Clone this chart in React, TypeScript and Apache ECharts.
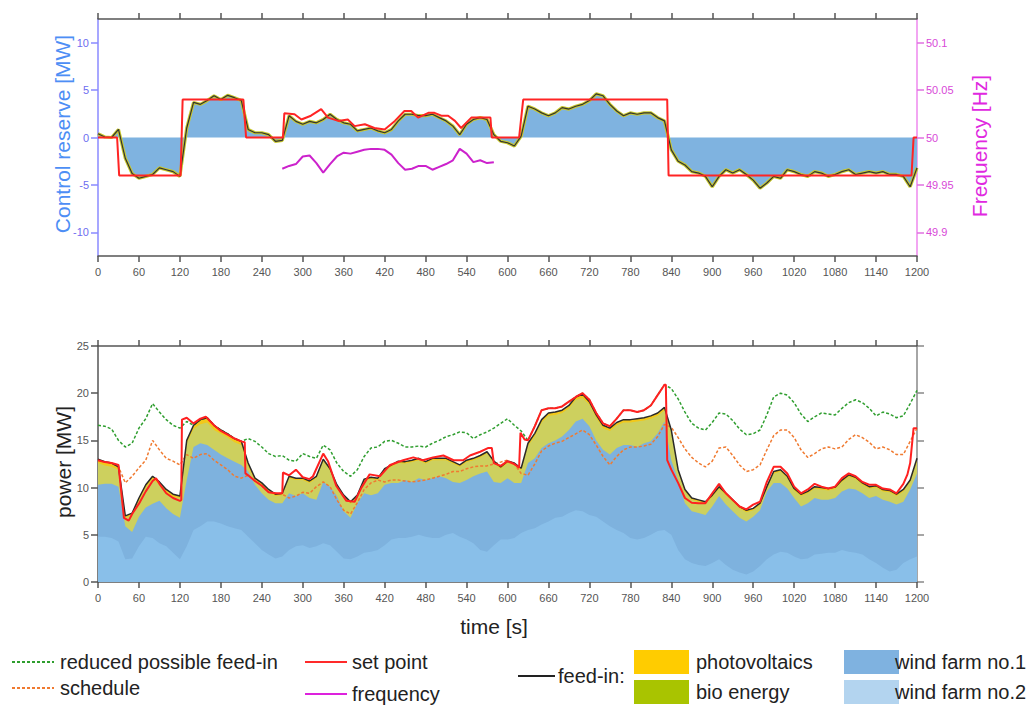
import React, { useEffect, useRef } from "react";
import * as echarts from "echarts";

// Sample instants of the 10 s series (s)
const T10: number[] = Array.from({ length: 121 }, (_, i) => i * 10);

// ---------- lower panel: power [MW] on the 10 s grid ----------
// measured total feed-in (black line)
const feedIn = [
  13.0, 12.75, 12.6, 12.2, 7.0, 7.3, 8.9, 10.3, 11.2, 10.6,
  9.8, 9.3, 9.1, 15.0, 16.6, 17.2, 17.4, 16.6, 16.1, 15.7,
  15.2, 14.9, 12.6, 11.0, 10.5, 9.8, 9.3, 9.4, 11.2, 11.0,
  11.0, 10.7, 11.2, 13.0, 12.0, 10.3, 9.2, 8.5, 9.2, 10.9,
  11.1, 11.0, 12.0, 12.4, 12.8, 12.75, 12.9, 13.1, 12.75, 13.1,
  13.1, 13.1, 12.75, 12.4, 12.9, 13.1, 13.4, 13.8, 12.8, 12.2,
  12.8, 12.6, 12.05, 14.7, 15.75, 17.2, 17.9, 18.0, 18.2, 18.7,
  19.6, 19.9, 19.1, 17.7, 16.6, 16.3, 16.9, 17.2, 17.2, 17.3,
  17.4, 17.6, 17.9, 18.5, 16.1, 11.9, 9.8, 8.9, 8.7, 8.5,
  9.2, 10.1, 9.4, 8.7, 8.0, 7.6, 7.8, 8.35, 10.1, 11.7,
  11.9, 11.2, 9.9, 9.3, 9.6, 10.1, 10.0, 9.9, 10.05, 10.8,
  11.35, 11.1, 10.5, 10.1, 10.2, 9.8, 9.7, 9.3, 9.8, 10.8,
  13.1,
];
// combined output of both wind farms
const windTotal = [
  10.3, 10.4, 10.4, 10.1, 5.9, 5.3, 6.9, 7.9, 8.3, 8.6,
  7.8, 7.2, 6.8, 10.8, 14.3, 14.7, 14.5, 14.0, 13.5, 13.1,
  12.75, 12.4, 11.7, 10.3, 9.4, 8.7, 8.35, 8.35, 9.4, 9.1,
  9.4, 8.9, 8.7, 10.6, 10.1, 9.1, 7.5, 6.8, 8.35, 9.4,
  9.2, 9.4, 10.3, 10.5, 10.5, 10.8, 10.6, 11.0, 10.8, 11.0,
  11.2, 11.0, 10.6, 10.5, 10.8, 11.2, 11.5, 11.7, 10.6, 10.5,
  11.0, 10.5, 10.5, 12.6, 13.1, 14.2, 14.7, 15.0, 15.4, 16.1,
  17.0, 17.3, 16.5, 15.0, 14.0, 13.5, 14.2, 14.5, 14.5, 14.3,
  14.7, 14.9, 15.75, 17.0, 12.9, 10.8, 8.35, 7.5, 7.3, 7.1,
  8.0, 9.1, 8.2, 7.5, 6.8, 6.4, 6.9, 7.6, 9.6, 10.5,
  10.5, 9.9, 8.9, 8.0, 8.35, 8.9, 8.7, 8.7, 8.9, 9.6,
  9.9, 9.8, 9.4, 8.9, 9.1, 8.7, 8.5, 8.2, 8.5, 9.8,
  11.5,
];
// wind farm no.2 output
const windFarm2 = [
  4.8, 4.8, 4.65, 4.3, 2.4, 2.5, 3.8, 4.8, 4.65, 4.1,
  3.8, 3.1, 2.4, 3.8, 5.5, 5.9, 6.4, 6.4, 6.2, 5.9,
  5.7, 5.5, 4.8, 4.1, 3.4, 2.9, 2.5, 2.7, 3.4, 3.8,
  3.9, 3.6, 3.8, 4.1, 3.9, 3.2, 2.5, 2.4, 2.7, 3.1,
  3.2, 3.4, 3.9, 4.5, 4.65, 4.65, 4.8, 5.0, 4.8, 4.65,
  4.65, 5.0, 5.2, 4.8, 4.5, 4.1, 3.4, 3.2, 3.9, 4.5,
  4.5, 4.65, 5.2, 5.5, 5.7, 6.1, 6.4, 6.8, 6.9, 7.3,
  7.6, 7.5, 7.1, 6.9, 6.4, 5.9, 5.5, 5.2, 4.65, 4.5,
  4.65, 5.0, 5.4, 5.5, 5.0, 3.4, 2.4, 2.0, 1.8, 1.7,
  2.0, 2.4, 1.8, 1.3, 1.0, 0.8, 1.1, 1.7, 2.4, 2.9,
  3.2, 3.1, 2.7, 2.4, 2.5, 2.9, 3.0, 3.1, 3.1, 3.4,
  3.2, 3.1, 2.9, 2.4, 2.0, 1.5, 1.1, 1.3, 2.0, 2.4,
  2.7,
];
// photovoltaics output
const photovoltaics = [
  0.4, 0.4, 0.4, 0.3, 0.2, 0.2, 0.3, 0.3, 0.3, 0.3,
  0.3, 0.3, 0.2, 0.3, 0.4, 0.5, 0.5, 0.5, 0.4, 0.4,
  0.4, 0.4, 0.3, 0.3, 0.3, 0.3, 0.2, 0.2, 0.2, 0.2,
  0.2, 0.2, 0.2, 0.2, 0.2, 0.2, 0.2, 0.2, 0.2, 0.2,
  0.2, 0.2, 0.2, 0.2, 0.2, 0.2, 0.2, 0.2, 0.2, 0.2,
  0.2, 0.2, 0.2, 0.2, 0.2, 0.2, 0.2, 0.2, 0.2, 0.2,
  0.2, 0.2, 0.2, 0.3, 0.3, 0.3, 0.3, 0.3, 0.3, 0.3,
  0.3, 0.4, 0.3, 0.3, 0.3, 0.3, 0.3, 0.3, 0.3, 0.3,
  0.3, 0.3, 0.3, 0.3, 0.2, 0.2, 0.2, 0.2, 0.2, 0.2,
  0.2, 0.2, 0.2, 0.2, 0.2, 0.2, 0.2, 0.2, 0.2, 0.2,
  0.2, 0.2, 0.2, 0.2, 0.2, 0.2, 0.2, 0.2, 0.2, 0.2,
  0.2, 0.2, 0.2, 0.2, 0.2, 0.2, 0.2, 0.2, 0.2, 0.2,
  0.3,
];
// reduced possible feed-in (green)
const reducedPossible = [
  16.6, 16.5, 16.2, 15.0, 14.3, 14.7, 16.3, 17.3, 18.9, 18.0,
  17.2, 16.6, 16.3, 17.0, 16.6, 17.2, 17.4, 16.6, 16.1, 15.7,
  15.2, 14.9, 15.2, 14.9, 14.3, 13.6, 13.3, 13.4, 12.9, 12.8,
  13.6, 13.3, 13.1, 14.5, 14.0, 12.6, 11.7, 11.2, 11.9, 13.3,
  14.2, 14.3, 14.9, 15.0, 14.7, 14.3, 14.3, 14.4, 14.3, 14.7,
  15.0, 15.4, 15.6, 15.9, 15.8, 15.2, 15.6, 15.9, 16.3, 16.8,
  17.3, 16.6, 16.0, 15.0, 16.5, 18.2, 18.4, 18.4, 18.6, 19.1,
  19.6, 20.0, 19.3, 17.9, 16.8, 16.5, 17.3, 18.2, 18.2, 18.0,
  18.2, 18.7, 19.8, 20.9, 20.5, 19.4, 18.0, 16.8, 16.3, 16.1,
  16.9, 17.9, 17.8, 17.1, 16.2, 15.6, 15.7, 16.1, 17.7, 19.6,
  20.0, 19.8, 19.0, 17.8, 17.0, 17.5, 17.9, 17.8, 17.7, 18.4,
  19.0, 19.3, 19.0, 18.4, 17.6, 18.0, 17.8, 17.4, 17.6, 18.9,
  20.3,
];
// schedule (orange)
const schedule = [
  12.9, 12.7, 12.6, 12.2, 10.5, 11.2, 12.1, 12.9, 15.0, 14.0,
  13.1, 12.8, 12.4, 13.5, 13.1, 13.5, 13.6, 12.9, 12.4, 11.9,
  11.2, 11.0, 11.3, 10.7, 10.2, 9.5, 9.4, 9.3, 8.9, 9.1,
  9.5, 9.4, 10.1, 10.6, 10.1, 8.7, 7.6, 7.2, 8.4, 9.8,
  10.5, 10.8, 10.6, 10.8, 10.8, 10.7, 10.6, 10.7, 10.8, 11.0,
  11.2, 11.4, 11.7, 11.7, 12.0, 12.2, 12.3, 12.3, 12.5, 12.7,
  12.9, 12.5, 11.5, 11.3, 12.5, 13.9, 14.4, 14.7, 14.9, 15.3,
  15.7, 16.1, 15.6, 14.5, 13.3, 12.4, 13.3, 14.0, 14.3, 14.3,
  14.4, 14.6, 15.4, 16.7, 16.4, 15.3, 14.1, 13.2, 12.6, 12.2,
  12.8, 14.2, 14.3, 13.4, 12.4, 11.7, 11.9, 12.4, 14.0, 15.5,
  16.1, 16.1, 15.3, 14.0, 13.2, 13.6, 14.1, 14.3, 14.1, 14.3,
  15.1, 15.6, 15.3, 14.8, 14.1, 14.3, 14.0, 13.5, 13.5, 14.9,
  16.3,
];
// set point (red), sampled at its change instants
const setPointTime = [
  0, 10, 20, 30, 38, 45, 50, 60, 70, 80, 85, 90, 100, 110, 120, 122, 123, 130, 140, 150,
  158, 170, 180, 190, 200, 210, 215, 216, 220, 230, 240, 250, 260, 270, 271, 280, 290, 295, 300, 310,
  315, 330, 337, 349, 364, 376, 386, 398, 413, 428, 447, 462, 476, 491, 506, 521, 535, 545, 560, 572,
  577, 580, 590, 600, 610, 617, 619, 625, 630, 640, 650, 660, 670, 680, 690, 700, 710, 720, 730, 740,
  750, 760, 770, 780, 790, 800, 810, 820, 830, 832, 834, 840, 850, 860, 870, 880, 890, 900, 910, 920,
  930, 940, 950, 960, 970, 980, 990, 1000, 1010, 1020, 1030, 1040, 1050, 1060, 1070, 1080, 1090, 1100, 1110, 1120,
  1130, 1140, 1150, 1160, 1170, 1180, 1186, 1190, 1195, 1200,
];
const setPoint = [
  12.9, 12.7, 12.6, 12.4, 6.8, 6.5, 7.2, 8.3, 9.6, 10.7, 11.0, 10.4, 9.4, 8.9, 8.6, 8.7, 17.2, 17.4, 16.8, 17.3,
  17.5, 16.6, 16.0, 15.6, 15.2, 14.9, 14.8, 11.5, 11.3, 10.7, 10.2, 9.5, 9.4, 9.4, 11.6, 11.3, 11.9, 11.5, 11.1, 10.9,
  11.2, 13.6, 12.8, 10.2, 8.6, 8.5, 10.0, 11.4, 11.2, 12.4, 12.9, 13.2, 12.9, 13.2, 13.4, 12.9, 12.9, 13.4, 13.8, 14.2,
  14.2, 12.6, 12.3, 12.8, 12.5, 12.1, 15.8, 15.1, 15.0, 16.5, 18.2, 18.4, 18.4, 18.6, 19.1, 19.6, 20.0, 19.3, 17.9, 16.8,
  16.5, 17.3, 18.2, 18.2, 18.0, 18.2, 18.7, 19.8, 20.9, 20.9, 12.9, 11.9, 10.5, 8.9, 8.4, 8.35, 8.35, 9.4, 10.4, 9.4,
  8.7, 8.0, 7.7, 8.2, 8.5, 10.6, 12.2, 12.2, 11.5, 10.1, 9.4, 9.8, 10.4, 10.1, 9.9, 10.1, 11.0, 11.5, 11.2, 10.6,
  10.3, 10.3, 9.9, 9.8, 9.4, 10.4, 11.4, 12.6, 16.3, 16.3,
];

// ---------- upper panel: control reserve [MW] and frequency [Hz] ----------
// delivered control reserve (feed-in minus schedule)
const reserve = [
  0.4, 0.05, 0.0, 0.85, -2.2, -3.8, -4.3, -4.1, -3.9, -3.2,
  -3.4, -3.6, -4.1, 1.0, 3.7, 3.5, 3.9, 4.4, 4.0, 4.45,
  4.2, 3.9, 0.85, 0.5, 0.5, 0.3, -0.4, -0.3, 2.3, 1.7,
  1.4, 1.7, 1.55, 1.9, 2.45, 1.9, 1.55, 1.4, 0.7, 0.85,
  1.0, 0.7, 0.5, 0.85, 1.75, 2.45, 2.45, 2.3, 2.3, 2.45,
  2.1, 1.75, 1.2, 0.3, 1.4, 1.9, 2.1, 1.9, 0.3, -0.4,
  -0.55, -0.9, 0.15, 3.3, 3.0, 2.6, 2.3, 2.6, 3.15, 3.0,
  3.3, 3.5, 3.9, 4.6, 4.4, 3.5, 2.8, 2.3, 2.6, 2.45,
  2.6, 2.6, 2.1, 1.75, -1.3, -2.5, -2.9, -3.6, -3.75, -4.1,
  -5.2, -4.1, -3.4, -3.75, -3.4, -3.9, -4.5, -5.35, -4.8, -4.1,
  -4.3, -3.4, -3.6, -3.9, -4.1, -3.6, -3.75, -4.1, -3.9, -3.6,
  -3.4, -3.9, -3.75, -3.6, -3.75, -3.6, -3.9, -3.9, -4.1, -5.2,
  -3.2,
];
// requested control reserve (red)
const reserveSetTime = [
  0, 28, 31, 121, 124, 213, 217, 271, 273, 288, 298, 312, 327, 337, 352, 366, 376, 391, 405, 420,
  435, 449, 459, 469, 484, 493, 503, 513, 523, 532, 547, 562, 575, 577, 617, 623, 834, 836, 1192, 1195, 1200,
];
const reserveSet = [
  0, 0, -4, -4, 4, 4, 0, 0, 2.55, 2.45, 1.9, 2.3, 3.0, 2.1, 1.75, 1.9, 1.2, 1.4, 1.0, 0.85,
  1.75, 2.8, 2.8, 2.1, 2.6, 2.6, 2.3, 2.3, 1.75, 1.0, 2.1, 2.1, 2.1, 0, 0, 4, 4, -4, -4, 0, 0,
];
// grid frequency (magenta)
const freqTime = [
  270, 280, 290, 300, 310, 320, 330, 340, 350, 360, 370, 380, 390, 400, 410, 420,
  430, 440, 450, 460, 470, 480, 490, 500, 510, 520, 530, 540, 550, 560, 570, 580,
];
const frequency = [
  49.967, 49.970, 49.972, 49.980, 49.981, 49.973, 49.963, 49.972, 49.980, 49.984, 49.983, 49.985, 49.987, 49.988, 49.988, 49.987,
  49.982, 49.973, 49.966, 49.967, 49.970, 49.970, 49.966, 49.969, 49.972, 49.976, 49.988, 49.983, 49.974, 49.976, 49.973, 49.974,
];

const reserveTicks = [-10, -5, 0, 5, 10];
const freqTicks = [49.9, 49.95, 50, 50.05, 50.1];

// Upper edges of the feed-in layers (wind no.2 at the bottom, then wind no.1,
// bio energy, photovoltaics on top = total feed-in)
const topOfBio = feedIn.map((v, i) => Math.max(windTotal[i], v - photovoltaics[i]));

const pairs = (ts: number[], vs: number[]) => ts.map((t, i) => [t, vs[i]]);

const FONT = "Liberation Sans, Arial, sans-serif";
const TICK_COLOR = "#555";
const LABEL = { color: "#555", fontSize: 11, fontFamily: FONT };

function timeAxis(grid: number, position: "top" | "bottom", labels: boolean) {
  return {
    type: "value",
    gridIndex: grid,
    position,
    min: 0,
    max: 1200,
    interval: 60,
    axisLine: { show: true, onZero: false, lineStyle: { color: TICK_COLOR, width: 1.5 } },
    axisTick: { show: true, inside: false, length: 6, lineStyle: { color: TICK_COLOR, width: 1.5 } },
    axisLabel: labels ? { ...LABEL, margin: 10, formatter: (v: number) => String(v) } : { show: false },
    splitLine: { show: false },
  };
}

function buildOption() {
  const lineSeries = (name: string, data: any, color: string, width: number, extra: any = {}) => ({
    name,
    type: "line",
    data,
    showSymbol: false,
    symbol: "none",
    lineStyle: { color, width, ...(extra.lineStyle || {}) },
    itemStyle: { color },
    ...extra.rest,
  });

  // each layer is filled from zero up to its upper edge; layers drawn back to front
  const layer = (name: string, vals: number[], color: string, z: number) => ({
    name,
    type: "line",
    xAxisIndex: 2,
    yAxisIndex: 2,
    data: pairs(T10, vals),
    showSymbol: false,
    symbol: "none",
    lineStyle: { width: 0, color },
    itemStyle: { color },
    areaStyle: { color, opacity: 1, origin: "start" },
    z,
  });

  const legendText = (text: string, x: number, y: number) => ({
    type: "text",
    x,
    y,
    style: { text, fill: "#222", fontSize: 20, fontFamily: FONT, textAlign: "left", textVerticalAlign: "middle" },
  });
  const legendLine = (x1: number, x2: number, y: number, stroke: string, dash?: number[]) => ({
    type: "line",
    shape: { x1, y1: y, x2, y2: y },
    style: { stroke, lineWidth: 2, lineDash: dash || null },
  });
  const legendBox = (x: number, y: number, fill: string) => ({
    type: "rect",
    shape: { x, y, width: 55, height: 24 },
    style: { fill },
  });
  const vTitle = (text: string, x: number, y: number, fill: string) => ({
    type: "text",
    x,
    y,
    rotation: Math.PI / 2,
    style: { text, fill, fontSize: 21, fontFamily: FONT, textAlign: "center", textVerticalAlign: "middle" },
  });

  return {
    animation: false,
    backgroundColor: "#ffffff",
    grid: [
      { left: 98, top: 19, width: 819, height: 237 },
      { left: 98, top: 346, width: 819, height: 236 },
    ],
    xAxis: [
      timeAxis(0, "bottom", true),
      timeAxis(0, "top", false),
      timeAxis(1, "bottom", true),
      timeAxis(1, "top", false),
    ],
    yAxis: [
      {
        type: "value",
        gridIndex: 0,
        position: "left",
        min: -12.5,
        max: 12.5,
        axisLine: { show: true, onZero: false, lineStyle: { color: "#8a8aff", width: 1.5 } },
        axisTick: { show: true, length: 7, customValues: reserveTicks, lineStyle: { color: "#8a8aff", width: 1.5 } },
        axisLabel: { customValues: reserveTicks, color: "#6d6df0", fontSize: 11, fontFamily: FONT, margin: 9 },
        splitLine: { show: false },
      },
      {
        type: "value",
        gridIndex: 0,
        position: "right",
        min: 49.875,
        max: 50.125,
        axisLine: { show: true, onZero: false, lineStyle: { color: "#ee88ee", width: 1.5 } },
        axisTick: { show: true, length: 7, customValues: freqTicks, lineStyle: { color: "#e070e0", width: 1.5 } },
        axisLabel: {
          customValues: freqTicks,
          color: "#d848d8",
          fontSize: 11,
          fontFamily: FONT,
          margin: 9,
          formatter: (v: number) => String(+v.toFixed(2)),
        },
        splitLine: { show: false },
      },
      {
        type: "value",
        gridIndex: 1,
        position: "left",
        min: 0,
        max: 25,
        interval: 5,
        axisLine: { show: true, onZero: false, lineStyle: { color: TICK_COLOR, width: 1.5 } },
        axisTick: { show: true, length: 7, lineStyle: { color: TICK_COLOR, width: 1.5 } },
        axisLabel: { ...LABEL, margin: 9 },
        splitLine: { show: false },
      },
      {
        type: "value",
        gridIndex: 1,
        position: "right",
        min: 0,
        max: 25,
        interval: 5,
        axisLine: { show: true, onZero: false, lineStyle: { color: "#888", width: 1.5 } },
        axisTick: { show: true, length: 7, lineStyle: { color: "#888", width: 1.5 } },
        axisLabel: { show: false },
        splitLine: { show: false },
      },
    ],
    series: [
      // upper panel
      {
        name: "control reserve",
        type: "line",
        xAxisIndex: 0,
        yAxisIndex: 0,
        data: pairs(T10, reserve),
        showSymbol: false,
        symbol: "none",
        lineStyle: { color: "#c8c82a", width: 3.2 },
        areaStyle: { color: "#7fb3e0", opacity: 1, origin: 0 },
        z: 2,
      },
      lineSeries("reserve feed-in", pairs(T10, reserve), "#333333", 1.2, { rest: { xAxisIndex: 0, yAxisIndex: 0, z: 3 } }),
      lineSeries("reserve set point", pairs(reserveSetTime, reserveSet), "#ff2424", 2, { rest: { xAxisIndex: 0, yAxisIndex: 0, z: 4 } }),
      lineSeries("frequency", pairs(freqTime, frequency), "#cc22cc", 2, { rest: { xAxisIndex: 0, yAxisIndex: 1, z: 4 } }),

      // lower panel
      layer("photovoltaics", feedIn, "#f2c81a", 1),
      layer("bio energy", topOfBio, "#cdd05e", 1),
      layer("wind farm no.1", windTotal, "#7eb2de", 1),
      layer("wind farm no.2", windFarm2, "#89bfe9", 1),
      lineSeries("schedule", pairs(T10, schedule), "#f07a30", 1.5, {
        lineStyle: { type: [3, 2] },
        rest: { xAxisIndex: 2, yAxisIndex: 2, z: 3 },
      }),
      lineSeries("reduced possible feed-in", pairs(T10, reducedPossible), "#2f9e2f", 1.5, {
        lineStyle: { type: [3, 2] },
        rest: { xAxisIndex: 2, yAxisIndex: 2, z: 3 },
      }),
      lineSeries("feed-in", pairs(T10, feedIn), "#2a2a2a", 1.5, { rest: { xAxisIndex: 2, yAxisIndex: 2, z: 4 } }),
      lineSeries("set point", pairs(setPointTime, setPoint), "#ff2020", 2, { rest: { xAxisIndex: 2, yAxisIndex: 2, z: 5 } }),
    ],
    graphic: [
      vTitle("Control reserve [MW]", 62, 134, "#4d8ef5"),
      vTitle("Frequency [Hz]", 979, 146, "#e028e0"),
      vTitle("power [MW]", 63, 462, "#222222"),
      {
        type: "text",
        x: 494,
        y: 626,
        style: { text: "time [s]", fill: "#222", fontSize: 21, fontFamily: FONT, textAlign: "center", textVerticalAlign: "middle" },
      },
      legendLine(12, 54, 662, "#2e9e2e", [3, 2]),
      legendText("reduced possible feed-in", 60, 662),
      legendLine(12, 54, 688, "#f07a30", [3, 2]),
      legendText("schedule", 60, 688),
      legendLine(305, 347, 662, "#ff2a2a"),
      legendText("set point", 352, 662),
      legendLine(305, 347, 694, "#dd22dd"),
      legendText("frequency", 352, 694),
      legendLine(518, 555, 676, "#222222"),
      legendText("feed-in:", 558, 676),
      legendBox(634, 650, "#ffcc00"),
      legendText("photovoltaics", 696, 662),
      legendBox(634, 680, "#a9c400"),
      legendText("bio energy", 696, 692),
      legendBox(844, 650, "#7fb2e0"),
      legendText("wind farm no.1", 895, 662),
      legendBox(844, 680, "#b3d4ef"),
      legendText("wind farm no.2", 895, 692),
    ],
  };
}

export default function App() {
  const ref = useRef<HTMLDivElement | null>(null);
  useEffect(() => {
    if (!ref.current) return;
    const chart = echarts.init(ref.current, undefined, { renderer: "svg" });
    chart.setOption(buildOption() as any);
    return () => chart.dispose();
  }, []);
  return (
    <div
      ref={ref}
      style={{ position: "absolute", left: 0, top: 0, width: 1029, height: 708, background: "#fff" }}
    />
  );
}
